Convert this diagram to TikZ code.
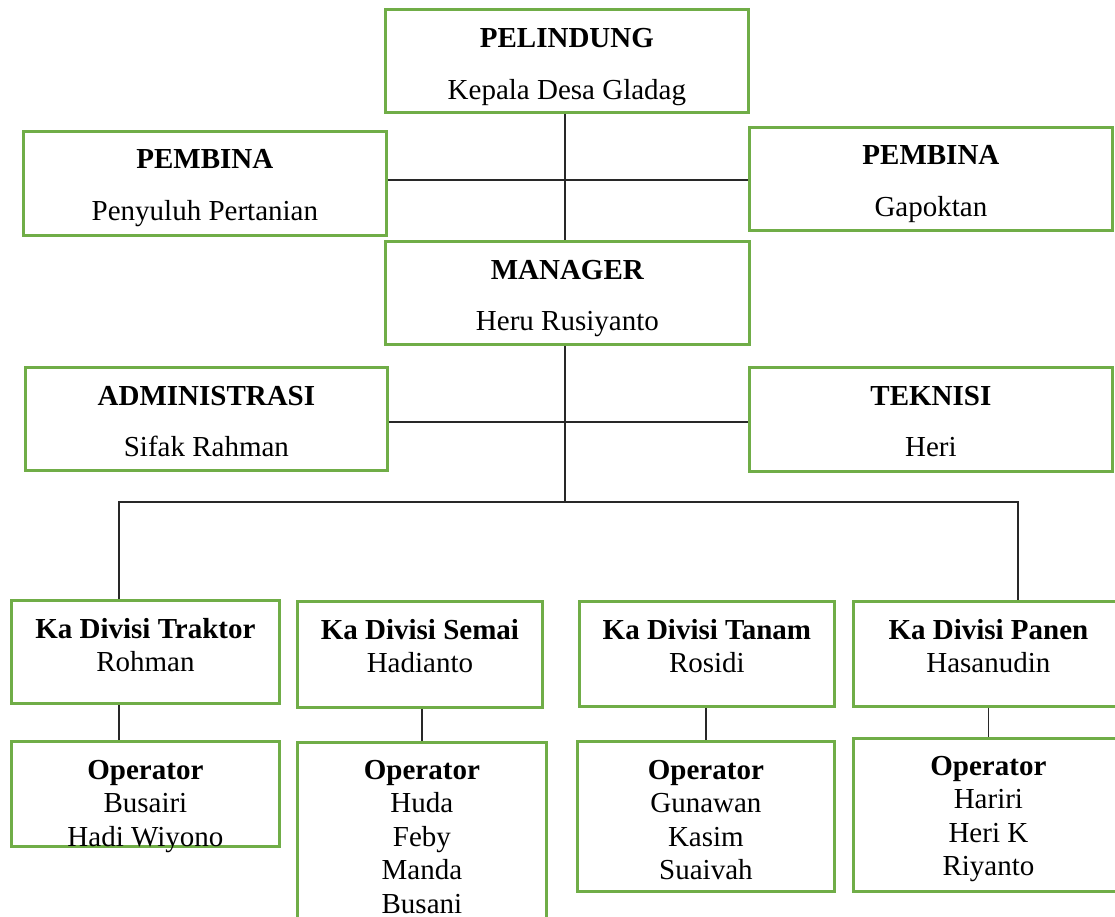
\documentclass[tikz,border=0pt]{standalone}
\usepackage{fontspec}
\setmainfont{Liberation Serif}
\definecolor{boxgreen}{RGB}{112,173,71}
\definecolor{linkgray}{RGB}{40,40,40}
\tikzset{
  box/.style={draw=boxgreen, line width=2.8pt, inner sep=0pt, anchor=north west},
  txt/.style={inner sep=0pt, anchor=base, font=\fontsize{29pt}{33.5pt}\selectfont},
  link/.style={draw=linkgray, line width=1.3pt}
}
\newcommand{\lines}[1]{\begin{tabular}[t]{@{}c@{}}#1\end{tabular}}
\begin{document}
\begin{tikzpicture}[x={(1pt,0)}, y={(0,-1pt)}]
\useasboundingbox (0,0) rectangle (1115,917);
\clip (0,0) rectangle (1115,917);
\fill[white] (0,0) rectangle (1115,917);

% upper levels
\node[box, minimum width=363pt, minimum height=103pt] (pel)  at (384,8)   {};
\node[box, minimum width=363pt, minimum height=104pt] (pemL) at (22,130)  {};
\node[box, minimum width=363pt, minimum height=103pt] (pemR) at (748,126) {};
\node[box, minimum width=364pt, minimum height=103pt] (man)  at (384,240) {};
\node[box, minimum width=362pt, minimum height=103pt] (adm)  at (24,366)  {};
\node[box, minimum width=363pt, minimum height=104pt] (tek)  at (748,366) {};

\node[txt] (pel-t)  at ([yshift=-40pt]pel.north)  {\lines{\textbf{PELINDUNG}\\[18pt] Kepala Desa Gladag}};
\node[txt] (pemL-t) at ([yshift=-39pt]pemL.north) {\lines{\textbf{PEMBINA}\\[18pt] Penyuluh Pertanian}};
\node[txt] (pemR-t) at ([yshift=-39pt]pemR.north) {\lines{\textbf{PEMBINA}\\[18pt] Gapoktan}};
\node[txt] (man-t)  at ([yshift=-39pt]man.north)  {\lines{\textbf{MANAGER}\\[18pt] Heru Rusiyanto}};
\node[txt] (adm-t)  at ([yshift=-39pt]adm.north)  {\lines{\textbf{ADMINISTRASI}\\[18pt] Sifak Rahman}};
\node[txt] (tek-t)  at ([yshift=-39pt]tek.north)  {\lines{\textbf{TEKNISI}\\[18pt] Heri}};

% division heads
\node[box, minimum width=268pt, minimum height=103pt] (kdT) at (10,599)  {};
\node[box, minimum width=245pt, minimum height=106pt] (kdS) at (296,600) {};
\node[box, minimum width=255pt, minimum height=105pt] (kdN) at (578,600) {};
\node[box, minimum width=270pt, minimum height=105pt] (kdP) at (852,600) {};

\node[txt] (kdT-t) at ([yshift=-39pt]kdT.north) {\lines{\textbf{Ka Divisi Traktor}\\ Rohman}};
\node[txt] (kdS-t) at ([yshift=-39pt]kdS.north) {\lines{\textbf{Ka Divisi Semai}\\ Hadianto}};
\node[txt] (kdN-t) at ([yshift=-39pt]kdN.north) {\lines{\textbf{Ka Divisi Tanam}\\ Rosidi}};
\node[txt] (kdP-t) at ([yshift=-39pt]kdP.north) {\lines{\textbf{Ka Divisi Panen}\\ Hasanudin}};

% operators
\node[box, minimum width=268pt, minimum height=105pt] (opT) at (10,740)  {};
\node[box, minimum width=249pt, minimum height=190pt] (opS) at (296,741) {};
\node[box, minimum width=257pt, minimum height=150pt] (opN) at (576,740) {};
\node[box, minimum width=270pt, minimum height=153pt] (opP) at (852,737) {};

\node[txt] (opT-t) at ([yshift=-39pt]opT.north) {\lines{\textbf{Operator}\\ Busairi\\ Hadi Wiyono}};
\node[txt] (opS-t) at ([yshift=-38pt]opS.north) {\lines{\textbf{Operator}\\ Huda\\ Feby\\ Manda\\ Busani}};
\node[txt] (opN-t) at ([yshift=-39pt]opN.north) {\lines{\textbf{Operator}\\ Gunawan\\ Kasim\\ Suaivah}};
\node[txt] (opP-t) at ([yshift=-38pt]opP.north) {\lines{\textbf{Operator}\\ Hariri\\ Heri K\\ Riyanto}};

% junction points
\coordinate (jP)   at (565,180);
\coordinate (jA)   at (565,422);
\coordinate (bus)  at (565,502);
\coordinate (busL) at (119,502);
\coordinate (busR) at (1018,502);

% connectors
\draw[link] (pel.south -| bus) -- (man.north -| bus);
\draw[link] (pemL.east |- jP) -- (pemR.west |- jP);
\draw[link] (man.south -| bus) -- (bus);
\draw[link] (adm.east |- jA) -- (tek.west |- jA);
\draw[link] (busL |- kdT.north) -- (busL) -- (busR) -- (busR |- kdP.north);
\draw[link] (kdT.south -| busL) -- (opT.north -| busL);
\draw[link] (opS.north |- kdS.south) -- (opS.north);
\draw[link] (opN.north |- kdN.south) -- (opN.north);
\draw[link] (opP.north |- kdP.south) -- (opP.north);
\end{tikzpicture}
\end{document}
